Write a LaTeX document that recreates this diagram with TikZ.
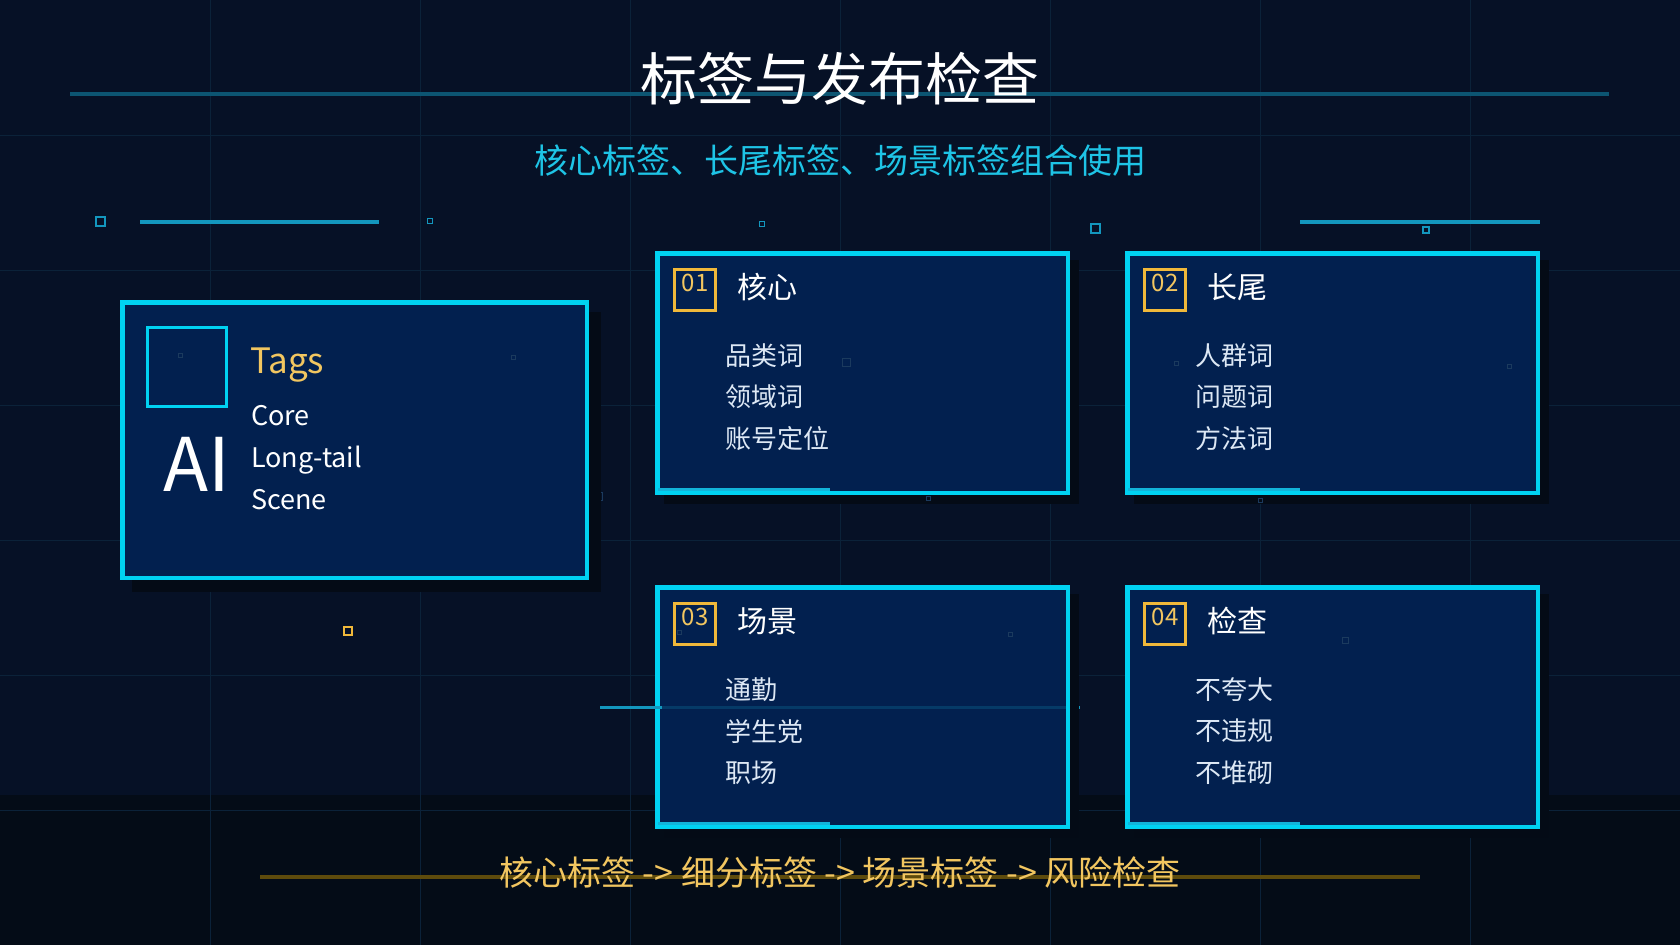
\documentclass[tikz,border=0pt]{standalone}
\usepackage{fontspec}
\setmainfont{Noto Sans CJK SC}
\definecolor{bgA}{HTML}{061126}
\definecolor{bgB}{HTML}{0A1A34}
\definecolor{bandc}{HTML}{040C17}
\definecolor{gridc}{HTML}{0B2239}
\definecolor{cyanb}{HTML}{00D2F2}
\definecolor{accentc}{HTML}{12B4DA}
\definecolor{cardf}{HTML}{02204F}
\definecolor{shadowc}{HTML}{040B16}
\definecolor{goldc}{HTML}{F0B83A}
\definecolor{goldt}{HTML}{F2C660}
\definecolor{subc}{HTML}{1EC4E6}
\definecolor{linec}{HTML}{0C5572}
\definecolor{decoc}{HTML}{1397BE}
\definecolor{itemc}{HTML}{DDE8F5}
\definecolor{dimc}{HTML}{1B3A5E}
\definecolor{olive}{HTML}{5E4B0C}
\tikzset{
  cardbox/.style={draw=cyanb, line width=4.5pt, fill=cardf, inner sep=0pt, outer sep=0pt},
  badgebox/.style={draw=goldc, line width=2.5pt, minimum width=41pt, minimum height=41pt, inner sep=0pt, outer sep=0pt},
  numtxt/.style={text=goldt, font=\fontsize{24}{24}\selectfont, inner sep=0pt},
  headtxt/.style={text=white, font=\fontsize{30}{30}\selectfont, inner sep=0pt, anchor=west},
  itemtxt/.style={text=itemc, font=\fontsize{26}{26}\selectfont, inner sep=0pt, anchor=west},
  lattxt/.style={text=white, font=\fontsize{27}{27}\selectfont, inner sep=0pt, anchor=base west},
  dimsq/.style={draw=dimc, line width=1pt},
}
\newcommand{\tagcard}[8]{%
  \fill[shadowc] (#2+9,#3+9) rectangle (#2+424,#3+253);
  \node[cardbox, minimum width=410.5pt, minimum height=239.5pt, anchor=north west] (#1) at (#2+2.25,#3+2.25) {};
  \draw[accentc, line width=3pt] (#2+3,#3+238) -- (#2+175,#3+238);
  \node[badgebox] (#1b) at (#2+40,#3+39) {};
  \node[numtxt] (#1n) at (#2+40,#3+32) {#4};
  \node[headtxt] (#1h) at (#2+82,#3+36) {#5};
  \node[itemtxt] (#1i) at (#2+70,#3+105) {#6};
  \node[itemtxt] (#1j) at (#2+70,#3+146) {#7};
  \node[itemtxt] (#1k) at (#2+70,#3+188) {#8};
}
\begin{document}
\begin{tikzpicture}[x=1pt,y=-1pt]
\useasboundingbox (0,0) rectangle (1680,945);
\fill[bgA] (0,0) rectangle (1680,795);
\fill[bandc] (0,795) rectangle (1680,945);
\foreach \gx in {210,420,...,1470} \draw[gridc, line width=1pt] (\gx,0) -- (\gx,945);
\foreach \gy in {135,270,...,810} \draw[gridc, line width=1pt] (0,\gy) -- (1680,\gy);

% title
\draw[linec, line width=3.5pt] (70,94) -- (1609,94);
\node[text=white, font=\fontsize{57}{57}\selectfont, inner sep=0pt] (title) at (840,79) {标签与发布检查};
\node[text=subc, font=\fontsize{34}{34}\selectfont, inner sep=0pt] (sub) at (840,161) {核心标签、长尾标签、场景标签组合使用};

% decorations
\draw[decoc, line width=2pt] (95.5,216.5) rectangle (104.5,225.5);
\draw[decoc, line width=3.5pt] (140,222) -- (379,222);
\draw[decoc, line width=1.5pt] (427.5,218.5) rectangle (432.5,223.5);
\draw[decoc, line width=1.5pt] (759.5,221.5) rectangle (764.5,226.5);
\draw[decoc, line width=2pt] (1090.5,223.5) rectangle (1099.5,232.5);
\draw[decoc, line width=3.5pt] (1300,222) -- (1540,222);
\draw[decoc, line width=1.5pt] (1423,227) rectangle (1429,233);
\draw[goldc, line width=1.5pt] (344,627) rectangle (352,635);
\draw[dimsq] (594,492) rectangle (602,500);

% left card
\fill[shadowc] (132,312) rectangle (601,592);
\node[cardbox, minimum width=464.5pt, minimum height=275.5pt, anchor=north west] (main) at (122.25,302.25) {};
\draw[cyanb, line width=3pt] (147.5,327.5) rectangle (226.5,406.5);
\draw[dimsq] (178,353) rectangle (182,357);
\draw[dimsq] (511,355) rectangle (515,359);
\node[text=goldt, font=\fontsize{35}{35}\selectfont, inner sep=0pt, anchor=base west] (tags) at (250,373) {Tags};
\node[lattxt] (core) at (251,425) {Core};
\node[lattxt] (long) at (251,467) {Long-tail};
\node[lattxt] (scene) at (251,509) {Scene};
\node[text=white, font=\fontsize{74}{74}\selectfont, inner sep=0pt, anchor=base west] (ai) at (163,491) {AI};

% line behind card 03
\draw[decoc, line width=3pt] (600,707) -- (1080,707);

% cards
\tagcard{c1}{655}{251}{01}{核心}{品类词}{领域词}{账号定位}
\tagcard{c2}{1125}{251}{02}{长尾}{人群词}{问题词}{方法词}
\tagcard{c3}{655}{585}{03}{场景}{通勤}{学生党}{职场}
\tagcard{c4}{1125}{585}{04}{检查}{不夸大}{不违规}{不堆砌}
\draw[decoc, line width=3pt, opacity=0.22] (662,707) -- (1066,707);
\draw[decoc, line width=3pt] (655,707) -- (662,707);

% dim squares
\draw[dimsq] (842,358) rectangle (850,366);
\draw[dimsq] (926,496) rectangle (930,500);
\draw[dimsq] (1174,361) rectangle (1178,365);
\draw[dimsq] (1507,364) rectangle (1511,368);
\draw[dimsq] (1258,498) rectangle (1262,502);
\draw[dimsq] (1008,632) rectangle (1012,636);
\draw[dimsq] (677,630) rectangle (681,634);
\draw[dimsq] (1342,637) rectangle (1348,643);

% bottom flow
\draw[olive, line width=4pt] (260,877) -- (1420,877);
\node[text=goldt, font=\fontsize{34}{34}\selectfont, inner sep=0pt] (flow) at (840,872) {核心标签 -> 细分标签 -> 场景标签 -> 风险检查};
\end{tikzpicture}
\end{document}
